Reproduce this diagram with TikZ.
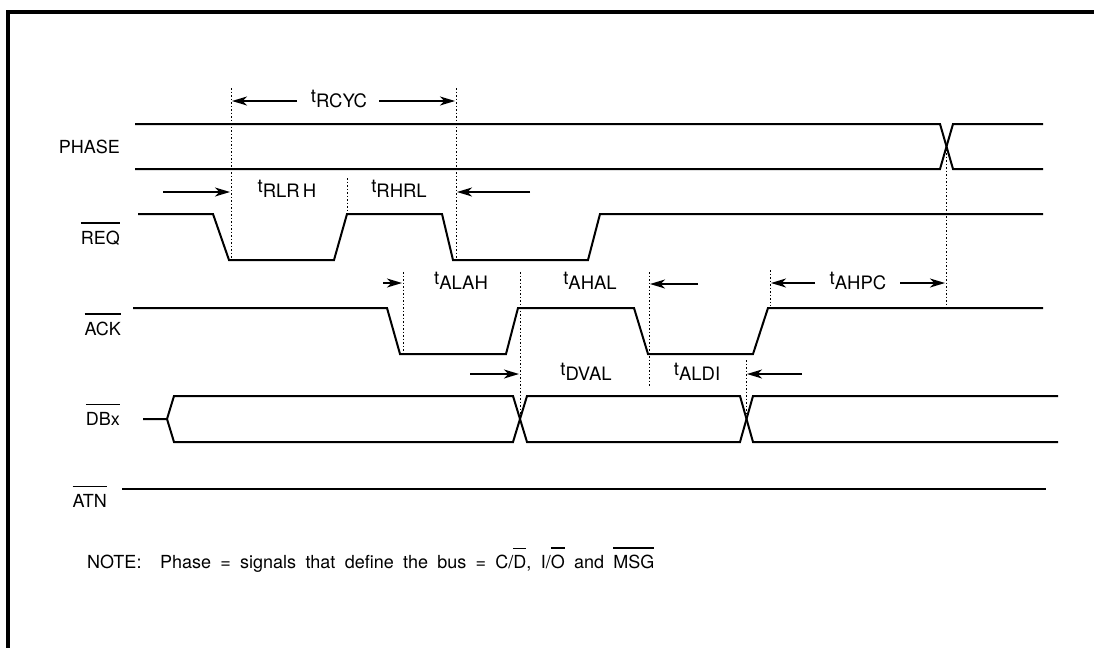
\documentclass[tikz,border=0pt]{standalone}
\usepackage{fontspec}
\setmainfont{TeX Gyre Heros}
\usetikzlibrary{arrows.meta}
\newcommand\ovl[2][7pt]{\leavevmode\vbox{\hrule height 1.2pt\kern #1\hbox{#2}}}
\newcommand\tsub[1]{t\raisebox{-5pt}{#1}}
\begin{document}
\begin{tikzpicture}[x=1pt,y=-1pt,
  sig/.style={line width=2pt, line join=miter},
  guide/.style={line width=1pt, dash pattern=on 1.5pt off 2pt},
  tarrow/.style={line width=1.4pt, -{Stealth[length=15pt,width=9pt,inset=4.5pt]}},
  lbl/.style={font=\fontsize{18}{20}\selectfont, inner sep=0pt, anchor=base east},
  tlbl/.style={font=\fontsize{18.5}{20}\selectfont, inner sep=0pt}]
\useasboundingbox (0,0) rectangle (1094,648);
% frame (top and left only)
\draw[line width=4pt] (1094,12) -- (8,12) -- (8,648);

% signal names
\node[lbl] (lphase) at (120,153) {PHASE};
\node[lbl] (lreq) at (120,244) {\ovl{REQ}};
\node[lbl] (lack) at (121,335) {\ovl{ACK}};
\node[lbl] (ldbx) at (120,425) {\ovl{DBx}};
\node[lbl] (latn) at (107,507) {\ovl{ATN}};

% PHASE
\draw[sig] (135,124) -- (940,124) -- (953,169) -- (1043,169);
\draw[sig] (135,169) -- (940,169) -- (953,124) -- (1043,124);
% REQ
\draw[sig] (138,214) -- (213,214) -- (229,260) -- (334,260) -- (347,214) -- (442,214) -- (453,260) -- (588,260) -- (600,214) -- (1043,214);
% ACK
\draw[sig] (133,308) -- (387,308) -- (400,354) -- (506,354) -- (518,308) -- (634,308) -- (648,354) -- (753,354) -- (768,308) -- (1043,308);
% DBx
\draw[sig] (143,419) -- (167,419) -- (174,396) -- (513,396) -- (527,442) -- (740,442) -- (753,396) -- (1058,396);
\draw[sig] (167,419) -- (174,442) -- (513,442) -- (527,396) -- (740,396) -- (753,442) -- (1058,442);
% ATN
\draw[sig] (122,489) -- (1046,489);

% dotted guides
\draw[guide] (231,88) -- (231,262);
\draw[guide] (347,178) -- (347,214);
\draw[guide] (456,88) -- (456,262);
\draw[guide] (403,272) -- (403,354);
\draw[guide] (520,272) -- (520,419);
\draw[guide] (649,272) -- (649,386);
\draw[guide] (770,270) -- (770,306);
\draw[guide] (746,360) -- (746,419);
\draw[guide] (946,146) -- (946,306);

% timing labels
\node[tlbl] (trcyc) at (339,99) {\tsub{RCYC}};
\node[tlbl] (trlrh) at (287,189) {\tsub{RLR\,H}};
\node[tlbl] (trhrl) at (399,189) {\tsub{RHRL}};
\node[tlbl] (talah) at (461,281) {\tsub{ALAH}};
\node[tlbl] (tahal) at (590,281) {\tsub{AHAL}};
\node[tlbl] (tahpc) at (858,281) {\tsub{AHPC}};
\node[tlbl] (tdval) at (586,372) {\tsub{DVAL}};
\node[tlbl] (taldi) at (697,372) {\tsub{ALDI}};

% timing arrows
\draw[tarrow] (297,101) -- (232,101);
\draw[tarrow] (379,101) -- (455,101);
\draw[tarrow] (163,192) -- (230,192);
\draw[tarrow] (530,192) -- (457,192);
\draw[tarrow] (383,283) -- (402,283);
\draw[tarrow] (698,284) -- (650,284);
\draw[tarrow] (815,283) -- (771,283);
\draw[tarrow] (900,283) -- (945,283);
\draw[tarrow] (470,374) -- (519,374);
\draw[tarrow] (802,374) -- (747,374);

% note
\node[font=\fontsize{18}{20}\selectfont, inner sep=0pt, anchor=base west] (note) at (87,568)
  {\spaceskip=9.3pt plus 1pt NOTE:\ \ Phase = signals that define the bus = C/\ovl[6pt]{D}, I/\ovl[6pt]{O} and \ovl[6pt]{MSG}};
\end{tikzpicture}
\end{document}
